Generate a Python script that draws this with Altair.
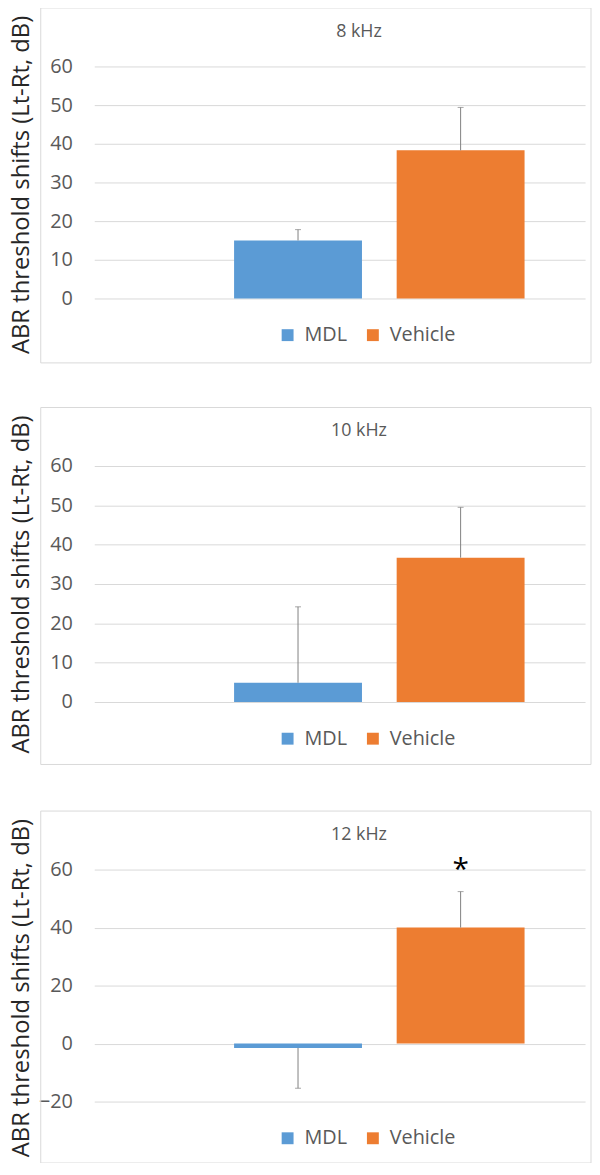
import altair as alt
import pandas as pd

# ---- data ----
panels = ["8 kHz", "10 kHz", "12 kHz"]
groups = ["MDL", "Vehicle"]
mdl_mean = [15.0, 4.9, -1.5]
mdl_sd = [2.8, 19.3, 13.9]
vehicle_mean = [38.3, 36.7, 40.0]
vehicle_sd = [11.1, 12.8, 12.4]
vehicle_sig = ["", "", "*"]
y_domains = [[0, 60], [0, 60], [-20, 60]]
y_ticks = [[0, 10, 20, 30, 40, 50, 60], [0, 10, 20, 30, 40, 50, 60], [-20, 0, 20, 40, 60]]
heights = [234, 238, 234]
frame_bottom = [65, 63, 62]
colors = ["#5B9BD5", "#ED7D31"]
y_title = "ABR threshold shifts (Lt-Rt, dB)"

FONT = "Open Sans"
W = 495


def panel(i):
    h = heights[i]
    means = [mdl_mean[i], vehicle_mean[i]]
    sds = [mdl_sd[i], vehicle_sd[i]]
    ends = [m + (s if m >= 0 else -s) for m, s in zip(means, sds)]
    df = pd.DataFrame({
        "group": groups,
        "mean": means,
        "end": ends,
        "sig": ["", vehicle_sig[i]],
    })
    xscale = alt.Scale(domain=groups, paddingInner=0.2134, paddingOuter=0.616, align=0.698)
    yscale = alt.Scale(domain=y_domains[i], nice=False, zero=False)
    yaxis = alt.Axis(
        values=y_ticks[i], grid=True, gridColor="#D9D9D9", gridWidth=1,
        domain=False, ticks=False, labelPadding=22, labelFontSize=20,
        labelColor="#595959", labelFont=FONT, labelOverlap=False,
        title=y_title, titleFont=FONT, titleFontSize=24,
        titleFontWeight="normal", titleColor="#262626",
        titleAngle=270, titleAlign="center", titleBaseline="middle",
        titleX=-73, titleY=119,
    )
    base = alt.Chart(df).encode(x=alt.X("group:N", scale=xscale, axis=None))

    single = alt.Chart(pd.DataFrame({"t": [panels[i]]}))
    frame = single.mark_rect(
        fillOpacity=0, stroke="#D9D9D9", strokeWidth=1
    ).encode(
        x=alt.value(-54), x2=alt.value(501),
        y=alt.value(-59), y2=alt.value(h + frame_bottom[i]),
    )
    title = single.mark_text(
        font=FONT, fontSize=18, color="#595959", baseline="middle", align="center"
    ).encode(x=alt.value(267), y=alt.value(-35), text="t:N")

    bars = base.mark_bar().encode(
        y=alt.Y("mean:Q", scale=yscale, axis=yaxis, title=y_title),
        color=alt.Color(
            "group:N", scale=alt.Scale(domain=groups, range=colors),
            legend=alt.Legend(
                orient="none", direction="horizontal", legendX=185, legendY=h + 27,
                title=None, symbolType="square", symbolSize=144,
                symbolStrokeWidth=0, labelFontSize=20, labelFont=FONT,
                labelColor="#595959", labelOffset=7, columnPadding=16, padding=0,
            ),
        ),
    )

    rule = base.mark_rule(color="#808080", strokeWidth=1).encode(
        y=alt.Y("mean:Q", scale=yscale, axis=yaxis, title=y_title), y2="end:Q"
    )
    cap = base.mark_tick(color="#808080", size=6, thickness=1).encode(
        y=alt.Y("end:Q", scale=yscale, axis=yaxis, title=y_title)
    )
    star = base.mark_text(
        font=FONT, fontSize=30, color="#000000", baseline="middle", dy=-22
    ).encode(y=alt.Y("end:Q", scale=yscale, axis=yaxis, title=y_title), text="sig:N")

    return alt.layer(frame, title, bars, rule, cap, star).properties(width=W, height=h)


chart = alt.vconcat(
    panel(0), panel(1), panel(2), spacing=169, bounds="flush"
).resolve_scale(color="independent").resolve_legend(color="independent").properties(
    padding={"left": 1, "top": -6, "right": 0, "bottom": -6}
).configure_view(strokeWidth=0)

chart.save("out.html", embed_options={"renderer": "svg", "actions": False})
